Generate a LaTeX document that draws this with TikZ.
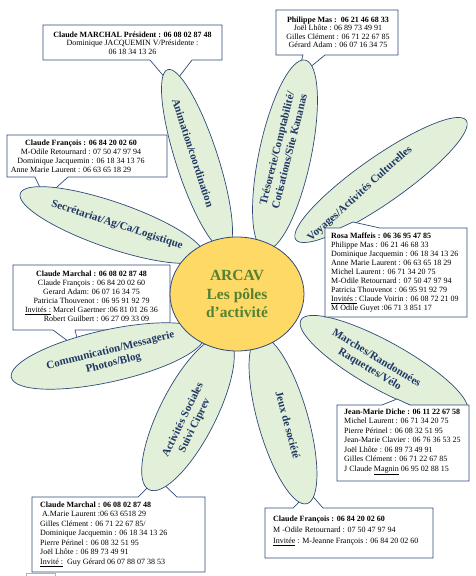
\documentclass[tikz,border=0pt]{standalone}
\usepackage{fontspec}
\setmainfont{Liberation Serif}
\usetikzlibrary{shapes.geometric}

\definecolor{petalfill}{HTML}{E2EFD9}
\definecolor{petalline}{HTML}{2F4A7A}
\definecolor{petaltext}{HTML}{1F3864}
\definecolor{hubfill}{HTML}{FFD966}
\definecolor{hubtext}{HTML}{548235}

\tikzset{
  petal/.style={draw=petalline, fill=petalfill, line width=0.7pt},
  petallabel/.style={text=petaltext, font=\fontsize{11}{13}\selectfont\bfseries, align=center, inner sep=0pt},
  hub/.style={ellipse, draw=petalline, fill=hubfill, line width=0.8pt, text=hubtext,
    font=\fontsize{15.5}{18.5}\selectfont\bfseries, align=center, inner sep=0pt},
  callout/.style={draw=petalline, fill=white, line width=0.7pt, line join=miter},
  boxtext/.style={font=\fontsize{8}{9}\selectfont, inner sep=0pt}
}

\begin{document}
\begin{tikzpicture}[x=1pt, y=-1pt]
  \useasboundingbox (0,0) rectangle (476,576);

  % callouts lying under the petals
  \draw[callout] (43,25) -- (222,25) -- (222,60) -- (192,60) -- (172,86) -- (150,60) -- (43,60) -- cycle;
  \node[boxtext, align=center, font=\fontsize{8}{8.5}\selectfont] (animBox) at (132.5,43)
    {\textbf{Claude MARCHAL Président : 06 08 02 87 48}\\Dominique JACQUEMIN V/Présidente :\\06 18 34 13 26};

  \draw[callout] (276,10) -- (398,10) -- (398,55) -- (325,55) -- (297,78) -- (303,55) -- (276,55) -- cycle;
  \node[boxtext, align=center, font=\fontsize{8}{8.5}\selectfont] (tresBox) at (338,32.5)
    {\textbf{Philippe Mas :\ \ 06 21 46 68 33}\\Joël Lhôte : 06 89 73 49 91\\Gilles Clément : 06 71 22 67 85\\Gérard Adam : 06 07 16 34 75};

  \draw[callout] (7,135) -- (167,135) -- (167,177) -- (68,177) -- (45,198) -- (35,177) -- (7,177) -- cycle;
  \node[boxtext, align=center] (secBox) at (81,156)
    {\textbf{Claude François : 06 84 20 02 60}\\M-Odile Retournard : 07 50 47 97 94\\Dominique Jacquemin : 06 18 34 13 76\\Anne Marie Laurent : 06 63 65 18 29\hspace*{20pt}};

  \draw[callout] (13,265) -- (170,265) -- (170,330) -- (75,330) -- (80,350) -- (53,330) -- (13,330) -- cycle;
  \node[boxtext, align=center] (comBox) at (91.5,296)
    {\textbf{Claude Marchal : 06 08 02 87 48}\\Claude François : 06 84 20 02 60\\Gerard Adam: 06 07 16 34 75\\
     Patricia Thouvenot : 06 95 91 92 79\hspace*{28pt}\\\underline{Invités :} Marcel Gaertner :06 81 01 26 36\\
     \hspace*{10pt}Robert Guilbert : 06 27 09 33 09};

  \draw[callout] (32,497) -- (138,497) -- (157,478) -- (177,497) -- (205,497) -- (205,572) -- (32,572) -- cycle;
  \node[boxtext, align=left, anchor=west, font=\fontsize{8}{9.5}\selectfont] (socBox) at (40,534)
    {\textbf{Claude Marchal : 06 08 02 87 48}\\\hspace*{2pt}A.Marie Laurent :06 63 6518 29\\Gilles Clément : 06 71 22 67 85/\\
     Dominique Jacquemin : 06 18 34 13 26\\Pierre Périnel : 06 08 32 51 95\\Joël Lhôte : 06 89 73 49 91\\
     \underline{Invité :}\ \ Guy Gérard 06 07 88 07 38 53};

  \draw[callout] (265,508) -- (293,508) -- (309,492) -- (323,508) -- (433,508) -- (433,558) -- (265,558) -- cycle;
  \node[boxtext, align=left, anchor=west, font=\fontsize{8}{11}\selectfont] (jeuxBox) at (273,531)
    {\textbf{Claude François : 06 84 20 02 60}\\M -Odile Retournard : 07 50 47 97 94\\
     \underline{Invitée} : M-Jeanne François : 06 84 20 02 60};

  \draw[gray!60, line width=0.5pt] (26,577) -- (26,573.5) -- (55,573.5) -- (55,577);

  % petals
  \draw[petal, rotate around={108:(197,160)}] (197,160) ellipse [x radius=95, y radius=21];
  \draw[petal, rotate around={78:(285,155)}] (285,155) ellipse [x radius=97, y radius=26];
  \draw[petal, rotate around={35:(381,180)}] (381,180) ellipse [x radius=104, y radius=23];
  \draw[petal, rotate around={-19:(112,225)}] (112,225) ellipse [x radius=97, y radius=23];
  \draw[petal, rotate around={12.5:(108,356)}] (108,356) ellipse [x radius=99, y radius=26];
  \draw[petal, rotate around={63:(188,413)}] (188,413) ellipse [x radius=86, y radius=28];
  \draw[petal, rotate around={-74:(283,420)}] (283,420) ellipse [x radius=87, y radius=25];
  \draw[petal, rotate around={-29:(384,366)}] (384,366) ellipse [x radius=95, y radius=24];

  \node[petallabel, rotate=-72] (anim) at (193,153) {Animation/coordination};
  \node[petallabel, rotate=76] (tres) at (283,150) {Trésorerie/Comptabilité/\\Cotisations/Site Kananas};
  \node[petallabel, rotate=42] (voy) at (360,194) {Voyages/Activités Culturelles};
  \node[petallabel, rotate=-18] (sec) at (117,225) {Secrétariat/Ag/Ca/Logistique};
  \node[petallabel, rotate=14] (com) at (112,357) {Communication/Messagerie\\Photos/Blog};
  \node[petallabel, rotate=64] (soc) at (189,423) {Activités Sociales\\Suivi Ciprev};
  \node[petallabel, rotate=-75] (jeux) at (288,425) {Jeux de société};
  \node[petallabel, rotate=-31] (marche) at (373,364) {Marches/Randonnées\\Raquettes/Vélo};

  % centre
  \node[hub, minimum width=134pt, minimum height=114pt] (arcav) at (237,294) {ARCAV\\Les pôles\\d’activité};

  % callouts lying over the petals
  \draw[callout] (325,228) -- (340,228) -- (353,222) -- (380,228) -- (467,228) -- (467,317) -- (325,317) -- cycle;
  \node[boxtext, align=left, anchor=west, font=\fontsize{8}{9.1}\selectfont] (voyBox) at (331,272.5)
    {\textbf{Rosa Maffeis : 06 36 95 47 85}\\Philippe Mas : 06 21 46 68 33\\Dominique Jacquemin : 06 18 34 13 26\\
     Anne Marie Laurent : 06 63 65 18 29\\Michel Laurent : 06 71 34 20 75\\M-Odile Retournard : 07 50 47 97 94\\
     Patricia Thouvenot : 06 95 91 92 79\\\underline{Invités :} Claude Voirin : 06 08 72 21 09\\M Odile Guyet :06 71 3 851 17};

  \draw[callout] (337,405) -- (382,405) -- (397,399) -- (410,405) -- (469,405) -- (469,481) -- (337,481) -- cycle;
  \node[boxtext, align=left, anchor=west, font=\fontsize{8}{9.5}\selectfont] (marcheBox) at (344,442)
    {\textbf{Jean-Marie Diche : 06 11 22 67 58}\\Michel Laurent : 06 71 34 20 75\\Pierre Périnel : 06 08 32 51 95\\
     Jean-Marie Clavier : 06 76 36 53 25\\Joël Lhôte : 06 89 73 49 91\\Gilles Clément : 06 71 22 67 85\\
     J Claude \underline{Magnin} 06 95 02 88 15};
\end{tikzpicture}
\end{document}
